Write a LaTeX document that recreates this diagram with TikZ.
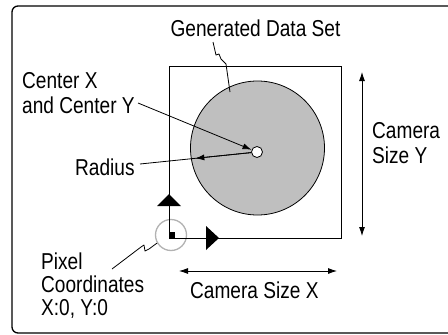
\documentclass[tikz,border=0pt]{standalone}
\usepackage{fontspec}
\setmainfont[FakeStretch=0.83]{Liberation Sans}
\usetikzlibrary{arrows.meta,calc}
\tikzset{
  lbl/.style={inner sep=0pt,font=\fontsize{23}{25}\selectfont,align=left},
  tip/.style={-{Latex[length=9pt,width=6pt]}},
  dimarrow/.style={{Latex[length=9pt,width=6pt]}-{Latex[length=9pt,width=6pt]},line width=0.8pt},
  leader/.style={line width=0.8pt,line join=round},
}
\begin{document}
\begin{tikzpicture}[x=1pt,y=-1pt]
  \useasboundingbox (0,0) rectangle (448,335);
  \draw[line width=1.3pt,rounded corners=6pt] (12,6) rectangle (470,333);
  % data set
  \filldraw[fill=black!25,line width=0.8pt] (257.5,148) circle[radius=67pt];
  \node[circle,draw=black!30,line width=1.3pt,minimum size=31pt,inner sep=0pt] (orig) at (171,235) {};
  \draw[line width=0.8pt] (169,66) rectangle (341,238);
  \node[circle,draw,fill=white,line width=0.8pt,minimum size=11pt,inner sep=0pt] (dot) at (257,152) {};
  % origin marks
  \fill (169,232) rectangle (175,238);
  \fill (169,194) -- (181,206) -- (157,206) -- cycle;
  \fill (219,238) -- (206,250) -- (206,226) -- cycle;
  % labels
  \node[lbl,anchor=base] (gen) at (255.5,36) {Generated Data Set};
  \node[lbl,anchor=north west] (cxy) at (22,72) {Center X\\and Center Y};
  \node[lbl,anchor=base west] (rad) at (75,175) {Radius};
  \node[lbl,anchor=north west] (csy) at (372,122) {Camera\\Size Y};
  \node[lbl,anchor=base west] (csx) at (190,298) {Camera Size X};
  \node[lbl,anchor=north west,font=\fontsize{23}{23}\selectfont] (pix) at (41,253) {Pixel\\Coordinates\\X:0, Y:0};
  % camera size
  \coordinate (ytop) at (362,72);
  \coordinate (ybot) at (362,236);
  \draw[dimarrow] (ytop) -- (ybot);
  \coordinate (xlft) at (179,271);
  \coordinate (xrgt) at (337,271);
  \draw[dimarrow] (xlft) -- (xrgt);
  % leaders
  \coordinate (cxyend) at (138,103);
  \draw[leader,tip] (cxyend) -- (dot);
  \coordinate (radend) at (140,164);
  \draw[leader] (radend) -- (dot);
  \draw[leader,tip] (dot) -- ($(dot)!62pt!(radend)$);
  \coordinate (genlead) at (213,42);
  \draw[leader] (genlead) -- (216,55) -- (219,54) -- (221,59) -- (226,64) -- (230,92);
  \coordinate (pixlead) at (112,269);
  \draw[leader] (pixlead) -- (141,247) -- (144,245) -- (145,251) -- (149,249) -- (orig.210);
\end{tikzpicture}
\end{document}
